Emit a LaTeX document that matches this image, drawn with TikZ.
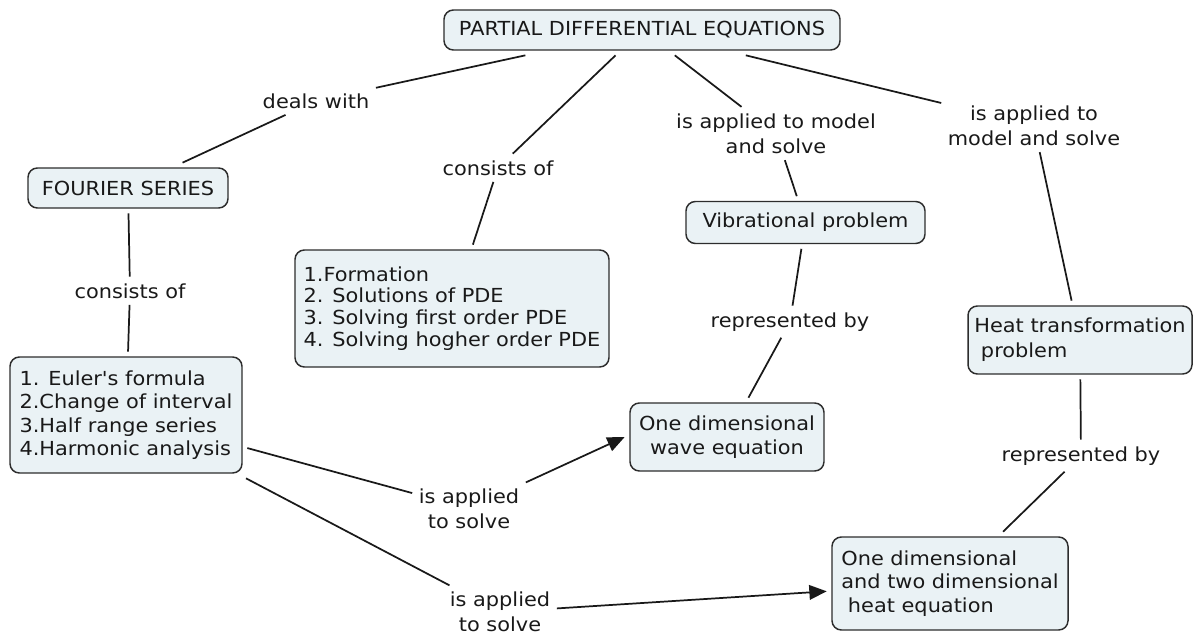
\documentclass[tikz,border=0pt]{standalone}
\usepackage{fontspec}
\setmainfont{DejaVu Sans}[FakeStretch=1.08, Ligatures=TeXOff]
\usetikzlibrary{arrows.meta}
\definecolor{boxfill}{RGB}{234,242,245}
\definecolor{boxline}{RGB}{45,45,45}
\definecolor{ink}{RGB}{25,25,25}
\begin{document}
\begin{tikzpicture}[x=0.75pt,y=-0.75pt,
  every node/.style={text=ink},
  concept/.style={draw=boxline, fill=boxfill, line width=1.1pt, rounded corners=7pt,
    align=left, inner sep=0pt, outer sep=4pt,
    font=\fontsize{14.5pt}{17.6pt}\selectfont},
  linking/.style={align=center, inner sep=3pt, outer sep=2pt,
    font=\fontsize{14.5pt}{18.75pt}\selectfont},
  link/.style={draw=ink, line width=1.3pt},
  linkarrow/.style={link, -{Triangle[length=13pt,width=11pt]}}
]
\useasboundingbox (0,0) rectangle (1194,635);

% concepts
\node[concept, align=center, minimum width=297pt, minimum height=30pt] (pde) at (642,30)
  {PARTIAL DIFFERENTIAL EQUATIONS};
\node[concept, minimum width=150pt, minimum height=30pt] (fs) at (128,188) {FOURIER SERIES};
\node[concept, minimum width=174pt, minimum height=87pt] (fl) at (126,415)
  {1. Euler's formula\\2.Change of interval\\3.Half range series\\4.Harmonic analysis};
\node[concept, minimum width=235.5pt, minimum height=87.75pt,
  font=\fontsize{14.5pt}{16.3pt}\selectfont] (pl) at (452,308.5)
  {1.Formation\\2. Solutions of PDE\\3. Solving first order PDE\\4. Solving hogher order PDE};
\node[concept, minimum width=179.25pt, minimum height=31.5pt] (vib) at (805.5,222.5)
  {Vibrational problem};
\node[concept, align=center, minimum width=145.5pt, minimum height=51pt] (wave) at (727,437)
  {One dimensional\\wave equation};
\node[concept, minimum width=168pt, minimum height=51pt,
  font=\fontsize{14.5pt}{18.75pt}\selectfont] (htr) at (1080,340)
  {Heat transformation\\~problem};
\node[concept, minimum width=177pt, minimum height=69.75pt] (heq) at (950,583.5)
  {One dimensional\\and two dimensional\\~heat equation};

% linking phrases
\node[linking, anchor=base] (ldeals) at (316,108) {deals with};
\node[linking, anchor=base] (lcons1) at (498,175) {consists of};
\node[linking, anchor=base] (lcons2) at (130,298) {consists of};
\node[linking] (lmod1) at (776,133.5) {is applied to model\\and solve};
\node[linking] (lmod2) at (1034,125.5) {is applied to\\model and solve};
\node[linking, anchor=base] (lrep1) at (790,327) {represented by};
\node[linking, anchor=base] (lrep2) at (1081,461) {represented by};
\node[linking] (a1) at (469,508.5) {is applied\\to solve};
\node[linking] (a2) at (500,612) {is applied\\to solve};

% connections
\draw[link] (pde) -- (ldeals);
\draw[link] (ldeals) -- (fs);
\draw[link] (pde) -- (lcons1);
\draw[link] (lcons1) -- (pl);
\draw[link] (pde) -- (lmod1);
\draw[link] (lmod1) -- (vib);
\draw[link] (pde) -- (lmod2);
\draw[link] (lmod2) -- (htr);
\draw[link] (fs) -- (lcons2);
\draw[link] (lcons2) -- (fl);
\draw[link] (vib) -- (lrep1);
\draw[link] (lrep1) -- (wave);
\draw[link] (htr) -- (lrep2);
\draw[link] (lrep2) -- (heq);
\draw[link] (fl) -- (a1);
\draw[linkarrow] (a1) -- (wave.west);
\draw[link] (fl) -- (a2);
\draw[linkarrow] (a2) -- (heq);
\end{tikzpicture}
\end{document}
